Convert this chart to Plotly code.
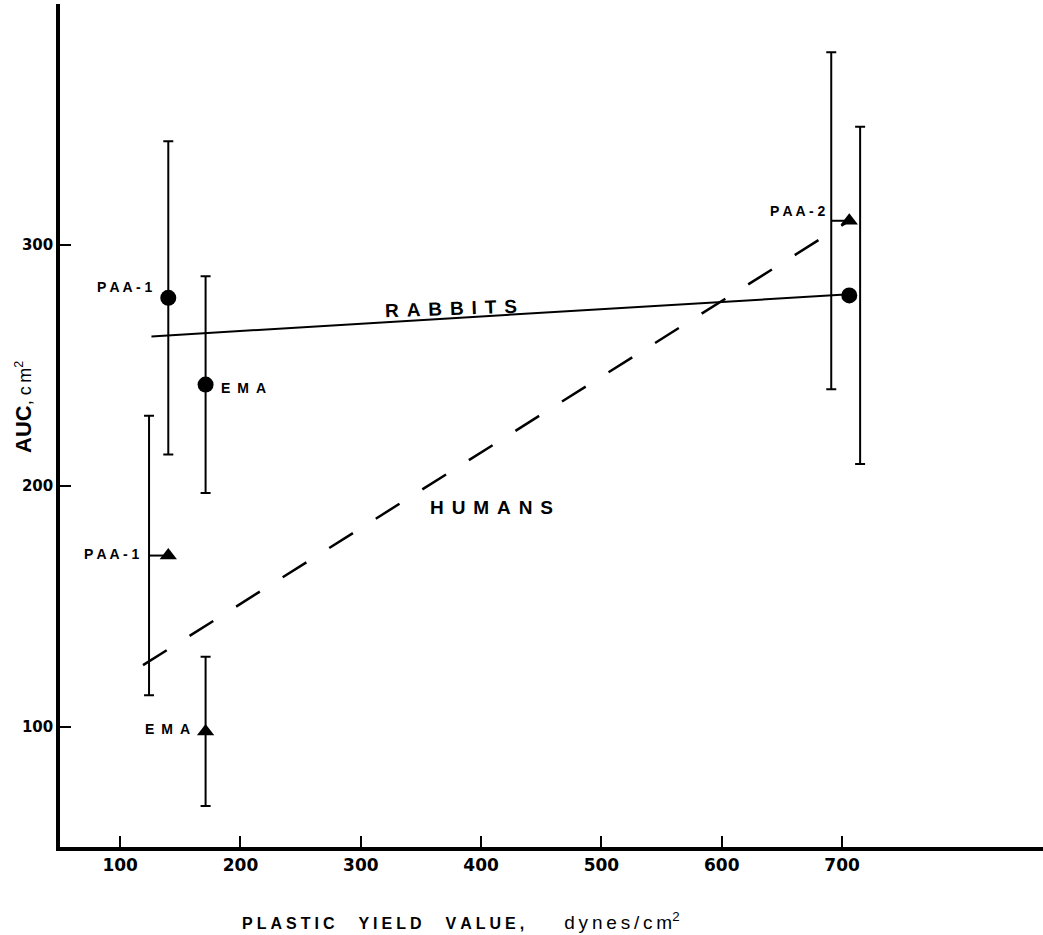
import plotly.graph_objects as go

# Plastic yield value (dynes/cm²) of each formulation
formulations = ["PAA-1", "EMA", "PAA-2"]
yield_value = [140, 171, 706]

# Mean AUC (cm²) with its spread, per species
rabbit_auc = [278, 242, 279]
rabbit_err = [65, 45, 70]
human_auc = [171, 98, 310]
human_err = [58, 31, 70]

# End points of the fitted trend lines
rabbit_fit_x = [126, 706]
rabbit_fit_y = [262, 279.5]
human_fit_x = [119, 706]
human_fit_y = [125.5, 310]

x_ticks = [100, 200, 300, 400, 500, 600, 700]
y_ticks = [100, 200, 300]

# which points carry a name tag
rabbit_tagged = [True, True, False]
human_tagged = [True, True, True]

# drawing style -------------------------------------------------------------
INK = "black"
FONT = "Liberation Sans, Arial, sans-serif"
TICK_FONT = "DejaVu Sans, Liberation Sans, sans-serif"
EN = "\u2002"
QUARTER = "\u2005"
SIXTH = "\u2006"
THIN = "\u2009"

# horizontal displacement of error bars (x units) so they don't overlap
rabbit_bar_shift = [0, 0, 9]
human_bar_shift = [-16, 0, -15]

# tag placement relative to the marker: (anchor, dx px, dy px)
rabbit_tag_pos = [("right", -14, 11), ("left", 13, -3), None]
human_tag_pos = [("right", -27, 2), ("right", -14, 2), ("right", -22, 10)]


def spaced(s, gap=" "):
    return gap.join(list(s))


def tag_text(name):
    # short names get wider letter spacing
    gap = EN if len(name) <= 3 else " "
    return "<b>" + spaced(name, gap) + "</b>"


fig = go.Figure()

# trend lines
fig.add_trace(go.Scatter(x=rabbit_fit_x, y=rabbit_fit_y, mode="lines",
                         line=dict(color=INK, width=2), hoverinfo="skip"))
fig.add_trace(go.Scatter(x=human_fit_x, y=human_fit_y, mode="lines",
                         line=dict(color=INK, width=2.5, dash="28px,27px"),
                         hoverinfo="skip"))

# error bars
for auc, err, shift in ((rabbit_auc, rabbit_err, rabbit_bar_shift),
                        (human_auc, human_err, human_bar_shift)):
    fig.add_trace(go.Scatter(
        x=[xv + s for xv, s in zip(yield_value, shift)], y=auc, mode="markers",
        marker=dict(size=1, color="rgba(0,0,0,0)"),
        error_y=dict(type="data", array=err, symmetric=True, color=INK,
                     thickness=2, width=5),
        hoverinfo="skip"))

# short leaders joining a displaced bar to its marker
for xv, yv, s in zip(yield_value, human_auc, human_bar_shift):
    if s:
        fig.add_trace(go.Scatter(x=[xv + s, xv], y=[yv, yv], mode="lines",
                                 line=dict(color=INK, width=2), hoverinfo="skip"))

# markers
fig.add_trace(go.Scatter(x=yield_value, y=rabbit_auc, mode="markers",
                         marker=dict(symbol="circle", size=16, color=INK),
                         hoverinfo="skip"))
fig.add_trace(go.Scatter(x=yield_value, y=human_auc, mode="markers",
                         marker=dict(symbol="triangle-up", size=15, color=INK),
                         hoverinfo="skip"))

annotations = []
for xs, ys, tagged, pos in ((yield_value, rabbit_auc, rabbit_tagged, rabbit_tag_pos),
                            (yield_value, human_auc, human_tagged, human_tag_pos)):
    for name, xv, yv, t, p in zip(formulations, xs, ys, tagged, pos):
        if not t:
            continue
        anchor, dx, dy = p
        annotations.append(dict(
            x=xv, y=yv, xref="x", yref="y", text=tag_text(name),
            showarrow=False, xanchor=anchor, yanchor="middle", xshift=dx, yshift=dy,
            font=dict(family=FONT, size=14, color=INK)))

WIDE = QUARTER + SIXTH
annotations.append(dict(x=375, y=273.5, xref="x", yref="y",
                        text="<b>" + spaced("RABBITS", WIDE) + "</b>", showarrow=False,
                        textangle=-2, font=dict(family=FONT, size=19, color=INK)))
annotations.append(dict(x=409, y=191, xref="x", yref="y",
                        text="<b>" + spaced("HUMANS", WIDE) + "</b>", showarrow=False,
                        font=dict(family=FONT, size=19, color=INK)))

# axis titles
annotations.append(dict(
    x=0, y=0.522, xref="paper", yref="paper", xshift=-36, showarrow=False,
    textangle=-90, xanchor="center", yanchor="middle",
    text="<b>AUC</b><span style='font-size:18px'>, c" + THIN + "m<sup>2</sup></span>",
    font=dict(family=FONT, size=22, color=INK)))
annotations.append(dict(
    x=0.408, y=-0.088, xref="paper", yref="paper", showarrow=False,
    xanchor="center", yanchor="middle",
    text="<b>" + spaced("PLASTIC", QUARTER) + QUARTER * 6 + spaced("YIELD", QUARTER)
         + QUARTER * 6 + spaced("VALUE,", QUARTER) + "</b>" + QUARTER * 10
         + "<span style='font-size:19px'>" + spaced("dynes/cm", THIN) + "<sup>2</sup></span>",
    font=dict(family=FONT, size=16, color=INK)))

fig.update_layout(
    width=1043, height=935,
    margin=dict(l=60, r=0, t=4, b=88),
    paper_bgcolor="white", plot_bgcolor="white",
    showlegend=False,
    annotations=annotations,
    xaxis=dict(range=[50, 867], tickvals=x_ticks, ticks="inside", ticklen=11,
               tickwidth=2, tickcolor=INK, showgrid=False, zeroline=False,
               showline=True, linecolor=INK, linewidth=3.5,
               tickfont=dict(family=TICK_FONT, size=17, color=INK, weight="bold")),
    yaxis=dict(range=[50, 400], tickvals=y_ticks, ticks="inside", ticklen=11,
               tickwidth=2, tickcolor=INK, showgrid=False, zeroline=False,
               showline=True, linecolor=INK, linewidth=3.5,
               tickfont=dict(family=TICK_FONT, size=15, color=INK, weight="bold")),
)

fig.write_html("out.html")
